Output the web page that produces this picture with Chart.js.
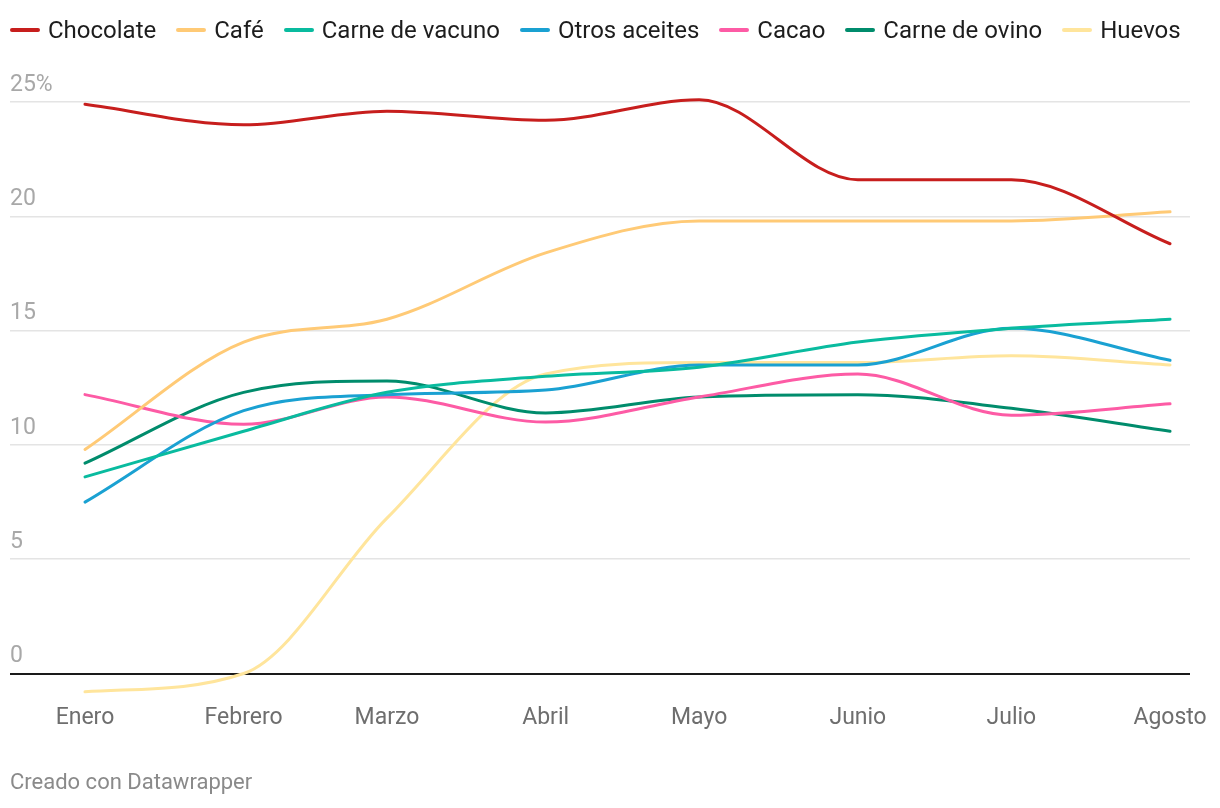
<!DOCTYPE html>
<html lang="es">
<head>
<meta charset="utf-8">
<title>Precios</title>
<script src="https://cdn.jsdelivr.net/npm/chart.js@4/dist/chart.umd.min.js"></script>
<style>
  html, body { margin: 0; padding: 0; background: #fff; }
  body { width: 1220px; height: 808px; position: relative; overflow: hidden;
         font-family: Roboto, "Noto Sans", sans-serif; }
  #legend { position: absolute; top: 15px; left: 10px; display: flex; align-items: center;
            font-size: 24px; line-height: 30px; color: #1d1d1d; white-space: nowrap; }
  .lg-item { display: flex; align-items: center; margin-right: 20px; }
  .lg-mark { width: 30px; height: 4px; border-radius: 2px; margin-right: 8px; }
  #credit { position: absolute; left: 10px; top: 769px; font-size: 22px; color: #8a8a8a; }
  #wrap { position: absolute; left: 0; top: 0; width: 1220px; height: 808px; }
</style>
</head>
<body>
<div id="wrap"><canvas id="chart" width="1220" height="808"></canvas></div>
<div id="legend"></div>
<div id="credit">Creado con Datawrapper</div>
<script>
/* ── data (% change) ─────────────────────────────────────────────────── */
const MONTHS = ['Enero', 'Febrero', 'Marzo', 'Abril', 'Mayo', 'Junio', 'Julio', 'Agosto'];
/* day of year of each month start: the axis is a date axis, so Feb is shorter */
const MONTH_DAYS = [0, 31, 59, 90, 120, 151, 181, 212];

const SERIES_NAMES  = ['Chocolate', 'Café', 'Carne de vacuno', 'Otros aceites', 'Cacao', 'Carne de ovino', 'Huevos'];
const SERIES_COLORS = ['#c71e1d', '#ffca76', '#09bb9f', '#1aa1d2', '#fd5ba5', '#008c6c', '#ffe59c'];

const CHOCOLATE = [24.9, 24.0, 24.6, 24.2, 25.1, 21.6, 21.6, 18.8];
const CAFE      = [ 9.8, 14.5, 15.5, 18.4, 19.8, 19.8, 19.8, 20.2];
const VACUNO    = [ 8.6, 10.6, 12.3, 13.0, 13.4, 14.5, 15.1, 15.5];
const ACEITES   = [ 7.5, 11.5, 12.2, 12.4, 13.5, 13.5, 15.1, 13.7];
const CACAO     = [12.2, 10.9, 12.1, 11.0, 12.1, 13.1, 11.3, 11.8];
const OVINO     = [ 9.2, 12.3, 12.8, 11.4, 12.1, 12.2, 11.6, 10.6];
const HUEVOS    = [-0.8,  0.0,  6.8, 13.1, 13.6, 13.6, 13.9, 13.5];

const SERIES_VALUES = [CHOCOLATE, CAFE, VACUNO, ACEITES, CACAO, OVINO, HUEVOS];

const Y_TICKS       = [0, 5, 10, 15, 20, 25];
const Y_TICK_LABELS = ['0', '5', '10', '15', '20', '25%'];

/* ── legend (html, built from the same arrays) ───────────────────────── */
const lg = document.getElementById('legend');
SERIES_NAMES.forEach((name, i) => {
  const it = document.createElement('div');
  it.className = 'lg-item';
  const mk = document.createElement('span');
  mk.className = 'lg-mark';
  mk.style.background = SERIES_COLORS[i];
  const tx = document.createElement('span');
  tx.textContent = name;
  it.appendChild(mk);
  it.appendChild(tx);
  lg.appendChild(it);
});

/* ── chart ───────────────────────────────────────────────────────────── */
const datasets = SERIES_NAMES.map((name, i) => ({
  label: name,
  data: SERIES_VALUES[i].map((v, j) => ({ x: MONTH_DAYS[j], y: v })),
  borderColor: SERIES_COLORS[i],
  backgroundColor: SERIES_COLORS[i],
  borderWidth: 3,
  borderCapStyle: 'round',
  borderJoinStyle: 'round',
  pointRadius: 0,
  pointHoverRadius: 0,
  cubicInterpolationMode: 'monotone',
  fill: false,
  clip: false
}));

const ctx = document.getElementById('chart').getContext('2d');
new Chart(ctx, {
  type: 'line',
  data: { datasets },
  options: {
    responsive: false,
    animation: false,
    devicePixelRatio: 1,
    layout: { padding: { top: 102, left: 10, right: 30, bottom: 68 } },
    plugins: {
      legend: { display: false },
      tooltip: { enabled: false }
    },
    scales: {
      x: {
        type: 'linear',
        min: -14.65,
        max: 215.9,
        afterBuildTicks: s => { s.ticks = MONTH_DAYS.map(d => ({ value: d })); },
        ticks: {
          callback: v => MONTHS[MONTH_DAYS.indexOf(v)],
          font: { family: 'Roboto', size: 23 },
          color: '#6e6e6e',
          padding: 8,
          maxRotation: 0,
          autoSkip: false
        },
        grid: { display: false, drawTicks: false },
        border: { display: false }
      },
      y: {
        min: -1,
        max: 25,
        afterBuildTicks: s => { s.ticks = Y_TICKS.map(v => ({ value: v })); },
        ticks: {
          mirror: true,
          padding: 0,
          labelOffset: -17,
          callback: v => Y_TICK_LABELS[Y_TICKS.indexOf(v)],
          font: { family: 'Roboto', size: 23 },
          color: '#a8a8a8'
        },
        grid: {
          drawTicks: false,
          color: c => c.tick && c.tick.value === 0 ? '#1a1a1a' : '#e4e4e4',
          lineWidth: c => c.tick && c.tick.value === 0 ? 2 : 1.5
        },
        border: { display: false }
      }
    }
  }
});
</script>
</body>
</html>
